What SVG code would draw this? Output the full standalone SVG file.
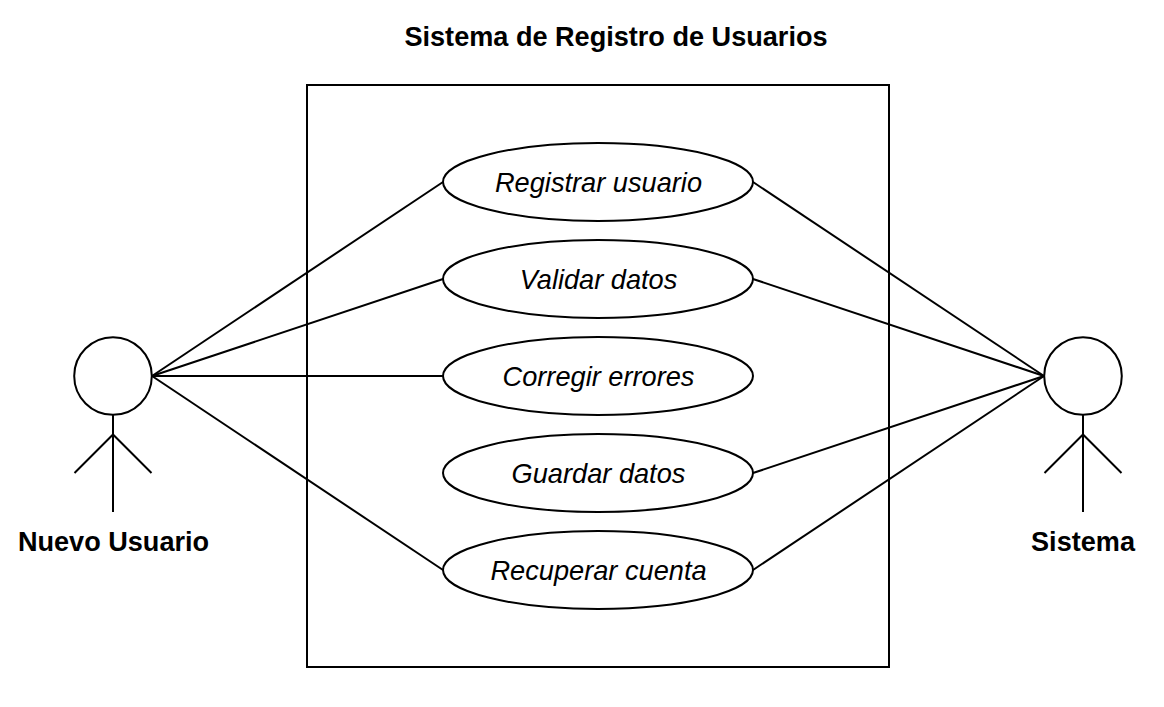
<svg xmlns="http://www.w3.org/2000/svg" width="1164" height="707" viewBox="0 0 1164 707">
<style>
.s{fill:none;stroke:#000;stroke-width:2}
.e{fill:#fff;stroke:#000;stroke-width:2}
.u{font-family:"Liberation Sans",Arial,sans-serif;font-size:27.2px;font-style:italic;fill:#000;text-anchor:middle}
.b{font-family:"Liberation Sans",Arial,sans-serif;font-size:27.1px;font-weight:bold;fill:#000;text-anchor:middle}
</style>
<rect width="1164" height="707" fill="#fff"/>
<text id="title" class="b" x="616" y="46">Sistema de Registro de Usuarios</text>
<rect id="boundary" class="s" x="307" y="85" width="582" height="582"/>
<g id="connectors" class="s">
<line x1="152" y1="376" x2="443" y2="182"/>
<line x1="152" y1="376" x2="443" y2="279"/>
<line x1="152" y1="376" x2="443" y2="376"/>
<line x1="152" y1="376" x2="443" y2="570"/>
<line x1="1044" y1="376" x2="753" y2="182"/>
<line x1="1044" y1="376" x2="753" y2="279"/>
<line x1="1044" y1="376" x2="753" y2="473"/>
<line x1="1044" y1="376" x2="753" y2="570"/>
</g>
<g id="actor-nuevo-usuario">
<circle class="e" cx="113" cy="376" r="38.8"/>
<path class="s" d="M113 415V512M74.500 473L113 434.500L151.500 473"/>
<text class="b" x="113.500" y="551">Nuevo Usuario</text>
</g>
<g id="actor-sistema">
<circle class="e" cx="1083" cy="376" r="38.800"/>
<path class="s" d="M1083 415V512M1044.500 473L1083 434.500L1121.500 473"/>
<text class="b" x="1083" y="551">Sistema</text>
</g>
<g id="uc-registrar"><ellipse class="e" cx="598" cy="182" rx="155" ry="39"/><text class="u" x="598.500" y="192">Registrar usuario</text></g>
<g id="uc-validar"><ellipse class="e" cx="598" cy="279" rx="155" ry="39"/><text class="u" x="598.500" y="289">Validar datos</text></g>
<g id="uc-corregir"><ellipse class="e" cx="598" cy="376" rx="155" ry="39"/><text class="u" x="598.500" y="386">Corregir errores</text></g>
<g id="uc-guardar"><ellipse class="e" cx="598" cy="473" rx="155" ry="39"/><text class="u" x="598.500" y="483">Guardar datos</text></g>
<g id="uc-recuperar"><ellipse class="e" cx="598" cy="570" rx="155" ry="39"/><text class="u" x="598.500" y="580">Recuperar cuenta</text></g>
</svg>
